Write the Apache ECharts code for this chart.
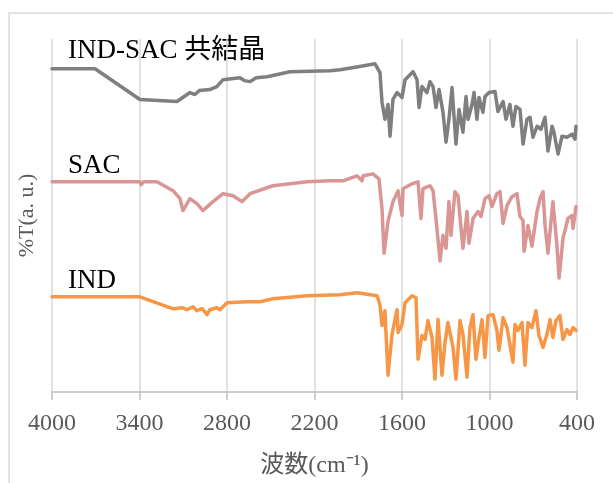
<!DOCTYPE html>
<html><head><meta charset="utf-8">
<script src="https://cdn.jsdelivr.net/npm/echarts@6/dist/echarts.min.js"></script>
<style>html,body{margin:0;padding:0;background:#fff}#c{width:613px;height:483px}</style>
</head><body><div id="c"></div>
<script>
// Wavenumber (cm-1) and %T in arbitrary units (stacked offsets as in the picture)
const xTicks = [4000, 3400, 2800, 2200, 1600, 1000, 400];
const seriesNames = ['IND-SAC 共結晶', 'SAC', 'IND'];

const cocrystalWn = [4000,3705,3397,3143,3054,3020,2990,2917,2870,2827,2711,2680,2642,2600,2526,2368,2094,2025,1900,1785,1751,1737,1717,1696,1682,1662,1634,1600,1579,1524,1497,1483,1463,1429,1408,1387,1367,1346,1319,1298,1278,1257,1230,1209,1182,1161,1147,1120,1106,1086,1072,1045,1031,1003,962,942,907,887,860,839,819,791,770,743,722,702,674,647,619,599,571,558,530,503,469,434,414,407];
const cocrystalT = [326,326,295,293,302,300,304,305,308,315,317,314,313,317,318,323,324,325,328,331,322,292,275,290,258,295,302,297,315,323,315,287,308,302,313,308,287,305,282,252,275,307,250,285,262,298,275,290,302,275,297,282,298,302,303,283,293,275,290,268,288,285,250,275,277,257,268,265,277,243,268,262,240,258,257,260,255,268];

const sacWn = [4000,3397,3390,3370,3280,3170,3122,3102,3054,3006,2965,2896,2827,2759,2697,2642,2485,2251,2094,2005,1995,1909,1874,1867,1799,1758,1737,1723,1696,1662,1627,1600,1593,1531,1490,1470,1456,1408,1387,1367,1339,1319,1298,1278,1264,1237,1216,1182,1154,1141,1113,1079,1058,1031,1003,983,949,928,907,880,846,812,791,770,763,736,709,674,654,633,619,599,565,537,523,496,462,434,427,407];
const sacT = [212,212,209,212,212,203,195,183,195,190,183,192,200,198,192,200,208,212,213,213,211,218,213,218,220,215,185,140,172,192,203,178,205,210,212,175,205,208,203,175,132,158,145,192,158,202,198,145,182,150,175,182,177,195,198,187,200,202,170,188,197,200,177,173,142,168,147,182,195,202,168,140,192,147,115,155,175,178,165,187];

const indWn = [4000,3397,3211,3170,3102,3074,3033,3006,2971,2937,2917,2869,2848,2800,2663,2574,2485,2251,2025,1909,1771,1751,1737,1717,1696,1669,1655,1634,1627,1600,1579,1531,1504,1490,1463,1442,1422,1394,1374,1353,1326,1305,1285,1250,1230,1202,1182,1154,1134,1113,1093,1072,1051,1031,1010,976,949,935,907,880,860,839,825,805,777,757,736,709,681,661,633,606,585,565,544,517,496,469,448,427,407];
const indT = [96,96,86,84,85,83,86,82,84,78,83,85,83,90,91,91,94,97,98,100,97,88,67,82,17,57,68,83,60,68,90,97,95,33,57,53,72,55,13,73,17,50,70,45,13,72,58,15,65,78,33,55,73,35,77,78,62,42,75,65,48,30,68,62,70,27,70,65,82,57,45,58,73,55,72,77,53,63,58,65,62];

const colors = ['#7f7f7f', '#d99694', '#f79646'];
const pair = (w, t) => w.map((x, i) => [x, t[i]]);
const datasets = [pair(cocrystalWn, cocrystalT), pair(sacWn, sacT), pair(indWn, indT)];

const serif = '"Liberation Serif","Noto Sans CJK JP",serif';
const chart = echarts.init(document.getElementById('c'), null, {renderer: 'canvas'});
chart.setOption({
  animation: false,
  backgroundColor: '#fff',
  grid: {left: 52, right: 36, top: 39, bottom: 88},
  xAxis: {
    type: 'value', inverse: true, min: 400, max: 4000, interval: 600,
    name: '波数(cm⁻¹)', nameLocation: 'middle', nameGap: 62,
    nameTextStyle: {fontFamily: serif, fontSize: 24, color: '#595959'},
    axisLine: {lineStyle: {color: '#bfbfbf', width: 1.5}},
    axisTick: {show: true, length: 8, inside: false, lineStyle: {color: '#bfbfbf', width: 1.5}},
    axisLabel: {fontFamily: serif, fontSize: 24, color: '#595959', margin: 20,
      formatter: v => String(xTicks.find(t => t === v) ?? v)},
    splitLine: {show: true, lineStyle: {color: '#d9d9d9', width: 1.5}}
  },
  yAxis: {
    type: 'value', min: 0, max: 356,
    name: '%T(a. u.)', nameLocation: 'middle', nameGap: 14, nameRotate: 90,
    nameTextStyle: {fontFamily: serif, fontSize: 22, color: '#595959'},
    axisLine: {show: false}, axisTick: {show: false}, axisLabel: {show: false},
    splitLine: {show: false}
  },
  series: datasets.map((d, i) => ({
    name: seriesNames[i], type: 'line', data: d, showSymbol: false, symbol: 'none',
    lineStyle: {color: colors[i], width: 3.5, join: 'round', cap: 'round'}, z: 3 + i
  })),
  graphic: [
    {type: 'rect', shape: {x: 9, y: 13, width: 610, height: 480}, style: {fill: 'none', stroke: '#d9d9d9', lineWidth: 1.5}, silent: true},
    {type: 'text', left: 68, top: 37, style: {text: seriesNames[0], font: '27px ' + serif, fill: '#000'}},
    {type: 'text', left: 68, top: 152, style: {text: seriesNames[1], font: '27px ' + serif, fill: '#000'}},
    {type: 'text', left: 68, top: 267, style: {text: seriesNames[2], font: '27px ' + serif, fill: '#000'}}
  ]
});
</script></body></html>
